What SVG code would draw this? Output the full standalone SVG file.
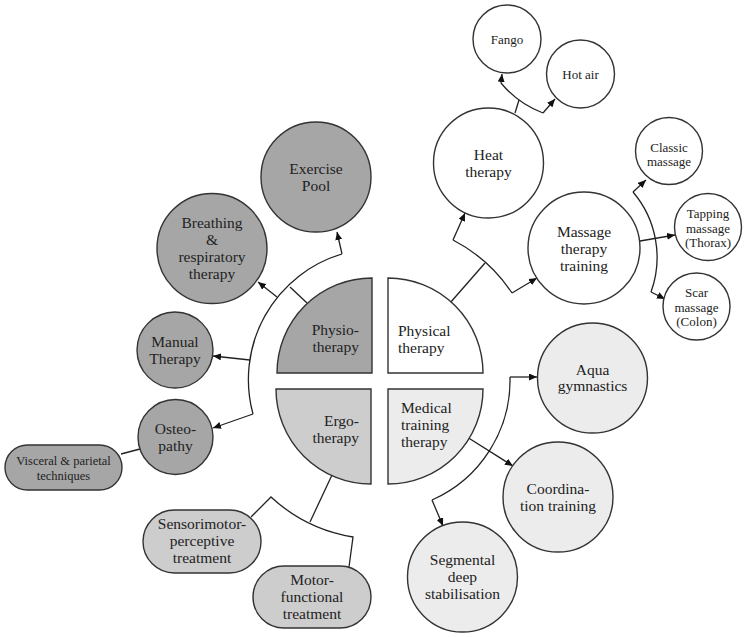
<svg xmlns="http://www.w3.org/2000/svg" width="749" height="637" viewBox="0 0 749 637">
<defs>
<marker id="arr" viewBox="0 0 8 7" refX="8" refY="3.5" markerWidth="8" markerHeight="7" markerUnits="userSpaceOnUse" orient="auto">
<path d="M0,0 L8,3.5 L0,7 z" fill="#111"/>
</marker>
<style>
.n{stroke:#333;stroke-width:1.4}
.d{fill:#a6a6a6}
.e{fill:#cdcdcd}
.m{fill:#ececec}
.w{fill:#ffffff}
text{font-family:"Liberation Serif","Times New Roman",serif;fill:#222;font-size:15.5px}
.c{text-anchor:middle}
.r{text-anchor:end}
.s{font-size:13px}
.t{font-size:12.5px}
.l{fill:none;stroke:#222;stroke-width:1.3}
.a{fill:none;stroke:#222;stroke-width:1.3;marker-end:url(#arr)}
</style>
</defs>
<rect width="749" height="637" fill="#fff"/>

<g id="connectors">
<!-- Physiotherapy ring -->
<path class="l" d="M342,254 A131,131 0 0 0 253,414"/>
<path class="l" d="M307,303 L290,287"/>
<path class="a" d="M342,254 L337,232"/>
<path class="a" d="M277,297 L258,282"/>
<path class="a" d="M250,360 L213,356"/>
<path class="a" d="M253,414 L213,428"/>
<path class="l" d="M140,449 L121,454"/>
<!-- Physical therapy ring -->
<path class="l" d="M453,240 A158,158 0 0 1 512,293"/>
<path class="l" d="M450,303 L485,263"/>
<path class="a" d="M453,240 L465,213"/>
<path class="a" d="M512,293 L537,278"/>
<!-- Heat therapy -->
<path class="l" d="M515,113 L519,100"/>
<path class="l" d="M501,83 A100,100 0 0 0 543,113"/>
<path class="a" d="M501,83 L502,74"/>
<path class="a" d="M543,113 L555,99"/>
<!-- Massage -->
<path class="l" d="M633,192 A101,101 0 0 1 651,292"/>
<path class="a" d="M633,192 L646,180"/>
<path class="a" d="M651,292 L665,299"/>
<path class="a" d="M640,241 L675,235"/>
<!-- Medical training -->
<path class="l" d="M510,377 A131,131 0 0 1 432,500"/>
<path class="a" d="M510,377 L537,377"/>
<path class="a" d="M432,500 L443,526"/>
<path class="a" d="M467,437 L513,466"/>
<!-- Ergotherapy -->
<path class="l" d="M332,475 L310,522"/>
<path class="l" d="M251,517 L271,497 A158,158 0 0 0 353,537 L349,567"/>
</g>

<g id="physiotherapy">
<path class="n d" d="M372,373 L372,278 A95,95 0 0 0 277,373 Z"/>
<text class="r" x="359" y="335">Physio-</text>
<text class="r" x="359" y="352">therapy</text>
</g>
<g id="physical-therapy">
<path class="n w" d="M388,373 L388,278 A95,95 0 0 1 483,373 Z"/>
<text x="398" y="336">Physical</text>
<text x="398" y="353">therapy</text>
</g>
<g id="ergotherapy">
<path class="n e" d="M371,389 L276,389 A95,95 0 0 0 371,484 Z"/>
<text class="r" x="359" y="426">Ergo-</text>
<text class="r" x="359" y="443">therapy</text>
</g>
<g id="medical-training-therapy">
<path class="n m" d="M388,389 L483,389 A95,95 0 0 1 388,484 Z"/>
<text x="401" y="413">Medical</text>
<text x="401" y="430">training</text>
<text x="401" y="447">therapy</text>
</g>

<g id="exercise-pool">
<circle class="n d" cx="316" cy="177" r="55"/>
<text class="c" x="316" y="174">Exercise</text>
<text class="c" x="316" y="191">Pool</text>
</g>
<g id="breathing">
<circle class="n d" cx="212" cy="248.5" r="55"/>
<text class="c" x="212" y="228">Breathing</text>
<text class="c" x="212" y="245">&amp;</text>
<text class="c" x="212" y="262">respiratory</text>
<text class="c" x="212" y="279">therapy</text>
</g>
<g id="manual-therapy">
<circle class="n d" cx="175" cy="350" r="38"/>
<text class="c" x="175" y="346.5">Manual</text>
<text class="c" x="175" y="363.5">Therapy</text>
</g>
<g id="osteopathy">
<circle class="n d" cx="175.5" cy="437" r="37.5"/>
<text class="c" x="175.5" y="433.5">Osteo-</text>
<text class="c" x="175.5" y="450.5">pathy</text>
</g>
<g id="visceral">
<rect class="n d" x="5" y="445" width="117" height="45" rx="22.5"/>
<text class="c t" x="63.5" y="465">Visceral &amp; parietal</text>
<text class="c t" x="63.5" y="480">techniques</text>
</g>

<g id="heat-therapy">
<circle class="n w" cx="488.5" cy="163" r="55"/>
<text class="c" x="488.5" y="160">Heat</text>
<text class="c" x="488.5" y="177">therapy</text>
</g>
<g id="fango">
<circle class="n w" cx="507" cy="39" r="34"/>
<text class="c s" x="507" y="43.5">Fango</text>
</g>
<g id="hot-air">
<circle class="n w" cx="580.5" cy="74" r="34"/>
<text class="c s" x="580.5" y="78.5">Hot air</text>
</g>
<g id="massage-therapy">
<circle class="n w" cx="584" cy="248" r="56"/>
<text class="c" x="584" y="236.5">Massage</text>
<text class="c" x="584" y="253.5">therapy</text>
<text class="c" x="584" y="270.5">training</text>
</g>
<g id="classic-massage">
<circle class="n w" cx="669" cy="151" r="33.5"/>
<text class="c s" x="669" y="152">Classic</text>
<text class="c s" x="669" y="166">massage</text>
</g>
<g id="tapping-massage">
<circle class="n w" cx="708" cy="227" r="33.5"/>
<text class="c s" x="708" y="218">Tapping</text>
<text class="c s" x="708" y="233">massage</text>
<text class="c s" x="708" y="247">(Thorax)</text>
</g>
<g id="scar-massage">
<circle class="n w" cx="696.5" cy="306.5" r="33.5"/>
<text class="c s" x="696.5" y="297">Scar</text>
<text class="c s" x="696.5" y="311.5">massage</text>
<text class="c s" x="696.5" y="325.5">(Colon)</text>
</g>

<g id="aqua-gymnastics">
<circle class="n m" cx="592.5" cy="378" r="55"/>
<text class="c" x="592.5" y="374.5">Aqua</text>
<text class="c" x="592.5" y="391">gymnastics</text>
</g>
<g id="coordination-training">
<circle class="n m" cx="558" cy="497" r="55"/>
<text class="c" x="558" y="494">Coordina-</text>
<text class="c" x="558" y="511">tion training</text>
</g>
<g id="segmental-deep-stabilisation">
<circle class="n m" cx="462.5" cy="577" r="55"/>
<text class="c" x="462.5" y="565">Segmental</text>
<text class="c" x="462.5" y="582">deep</text>
<text class="c" x="462.5" y="599">stabilisation</text>
</g>

<g id="sensorimotor">
<rect class="n e" x="143" y="510" width="118" height="63" rx="31.5"/>
<text class="c" x="202" y="529">Sensorimotor-</text>
<text class="c" x="202" y="546">perceptive</text>
<text class="c" x="202" y="563">treatment</text>
</g>
<g id="motor-functional">
<rect class="n e" x="253" y="566" width="118" height="62" rx="31"/>
<text class="c" x="312" y="585">Motor-</text>
<text class="c" x="312" y="602">functional</text>
<text class="c" x="312" y="619">treatment</text>
</g>
</svg>
